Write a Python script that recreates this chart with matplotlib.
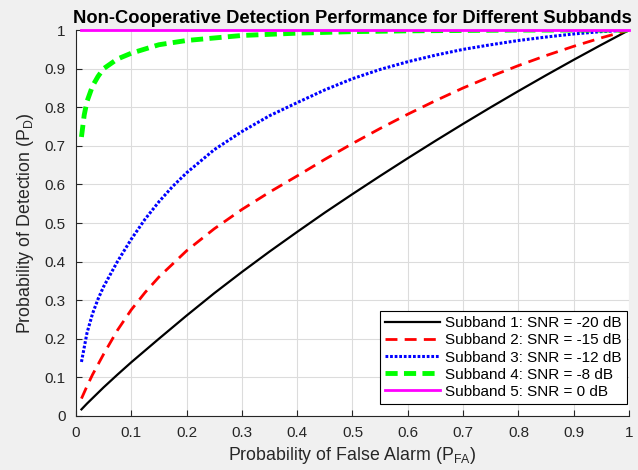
import matplotlib
matplotlib.use('Agg')
import matplotlib.pyplot as plt

plt.rcParams['font.family'] = ['Liberation Sans', 'DejaVu Sans']
plt.rcParams['mathtext.fontset'] = 'custom'
plt.rcParams['mathtext.rm'] = 'Liberation Sans'

# values
pfa1 = [0.01, 0.02, 0.03, 0.05, 0.075, 0.1, 0.15, 0.2, 0.25, 0.3, 0.35, 0.4, 0.45, 0.5,
        0.55, 0.6, 0.65, 0.7, 0.75, 0.8, 0.85, 0.9, 0.95, 1.0]
pd1 = [0.017, 0.032, 0.046, 0.074, 0.107, 0.139, 0.2, 0.26, 0.318, 0.373, 0.426, 0.477,
       0.527, 0.575, 0.622, 0.668, 0.713, 0.757, 0.8, 0.842, 0.883, 0.923, 0.962, 1.0]

pfa2 = [0.01, 0.02, 0.03, 0.05, 0.075, 0.1, 0.125, 0.15, 0.2, 0.25, 0.3, 0.35, 0.4, 0.45,
        0.5, 0.55, 0.6, 0.65, 0.7, 0.75, 0.8, 0.85, 0.9, 0.95, 1.0]
pd2 = [0.045, 0.077, 0.107, 0.16, 0.222, 0.275, 0.32, 0.36, 0.428, 0.485, 0.535, 0.58,
       0.622, 0.665, 0.706, 0.745, 0.782, 0.817, 0.85, 0.88, 0.908, 0.934, 0.958, 0.98, 1.0]

pfa3 = [0.01, 0.02, 0.03, 0.04, 0.05, 0.075, 0.1, 0.125, 0.15, 0.175, 0.2, 0.25, 0.3,
        0.35, 0.4, 0.45, 0.5, 0.55, 0.6, 0.65, 0.7, 0.75, 0.8, 0.85, 0.9, 0.95, 1.0]
pd3 = [0.14, 0.215, 0.265, 0.303, 0.335, 0.4, 0.458, 0.51, 0.555, 0.595, 0.63, 0.69, 0.737,
       0.778, 0.812, 0.845, 0.874, 0.898, 0.918, 0.935, 0.95, 0.962, 0.973, 0.982,
       0.99, 0.996, 1.0]

pfa4 = [0.01, 0.015, 0.02, 0.03, 0.04, 0.05, 0.075, 0.1, 0.15, 0.2, 0.3, 0.4,
        0.5, 0.6, 0.7, 0.8, 0.9, 1.0]
pd4 = [0.723, 0.78, 0.815, 0.855, 0.88, 0.9, 0.925, 0.94, 0.962, 0.973, 0.986, 0.992,
       0.996, 0.998, 0.999, 1.0, 1.0, 1.0]

pfa5 = [0.01, 1.0]
pd5 = [1.0, 1.0]

labels = ['Subband 1: SNR = -20 dB', 'Subband 2: SNR = -15 dB',
          'Subband 3: SNR = -12 dB', 'Subband 4: SNR = -8 dB',
          'Subband 5: SNR = 0 dB']
ticks = [0, 0.1, 0.2, 0.3, 0.4, 0.5, 0.6, 0.7, 0.8, 0.9, 1]

fig = plt.figure(figsize=(6.38, 4.70), dpi=100, facecolor='#f0f0f0')
ax = fig.add_axes([0.119, 0.115, 0.867, 0.821])

ax.plot(pfa1, pd1, '-', color='k', lw=1.6, label=labels[0])
ax.plot(pfa2, pd2, '--', color='r', lw=2, dashes=(4.3, 2.6), label=labels[1])
ax.plot(pfa3, pd3, ':', color='b', lw=2.2, dashes=(0.9, 0.6), label=labels[2])
ax.plot(pfa4, pd4, '--', color='#00ff00', lw=3.5, dashes=(2.5, 1.3), label=labels[3])
ax.plot(pfa5, pd5, '-', color='#ff00ff', lw=2, label=labels[4], clip_on=False, zorder=5)

ax.set_xlim(0, 1)
ax.set_ylim(0, 1)
ax.set_xticks(ticks)
ax.set_yticks(ticks)
ax.set_xticklabels(['%g' % t for t in ticks])
ax.set_yticklabels(['%g' % t for t in ticks])
ax.tick_params(direction='in', length=4, width=0.8, colors='#262626',
               labelsize=11, pad=7.5, top=False, right=False)
ax.spines['top'].set_visible(False)
ax.spines['right'].set_visible(False)
for s in ['left', 'bottom']:
    ax.spines[s].set_color('#262626')
    ax.spines[s].set_linewidth(0.8)
ax.grid(True, color='#dcdcdc', lw=0.8)
ax.set_axisbelow(True)

ax.set_title('Non-Cooperative Detection Performance for Different Subbands',
             fontsize=13.2, fontweight='bold', pad=5)
ax.set_xlabel('Probability of False Alarm (P$_{\\mathrm{FA}}$)', fontsize=12.8,
              color='#262626', labelpad=3)
ax.set_ylabel('Probability of Detection (P$_{\\mathrm{D}}$)', fontsize=12.8,
              color='#262626', labelpad=6)

leg = ax.legend(loc='lower right', bbox_to_anchor=(0.9964, 0.031), fontsize=11,
                fancybox=False, edgecolor='k', framealpha=1, handlelength=3.6,
                handletextpad=0.35, borderpad=0.35, labelspacing=0.2, borderaxespad=0)
leg.get_frame().set_linewidth(0.8)

plt.savefig('out.png', dpi=100, facecolor='#f0f0f0')
